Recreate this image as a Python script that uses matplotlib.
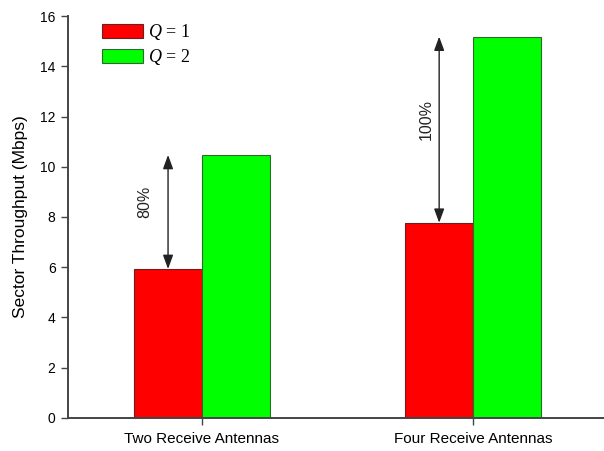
import matplotlib
matplotlib.use("Agg")
import matplotlib.pyplot as plt
import numpy as np

categories = ["Two Receive Antennas", "Four Receive Antennas"]
q1_values = [5.93, 7.77]
q2_values = [10.47, 15.18]
gain_labels = ["80%", "100%"]
series_labels = ["$Q$ = 1", "$Q$ = 2"]

plt.rcParams['font.family'] = ['Liberation Sans', 'DejaVu Sans']
plt.rcParams['mathtext.fontset'] = 'custom'
plt.rcParams['mathtext.it'] = 'Liberation Serif:italic'
plt.rcParams['mathtext.rm'] = 'Liberation Serif'

fig = plt.figure(figsize=(6.04, 4.51), dpi=100)
ax = fig.add_axes([0.1126, 0.0732, 0.8874, 0.8913])

x = np.arange(len(categories))
w = 0.25
spine_col = '#444444'
ax.bar(x - w/2, q1_values, w, color='#ff0000', edgecolor='#6a2020', linewidth=0.8, label=series_labels[0])
ax.bar(x + w/2, q2_values, w, color='#00ff00', edgecolor='#2e6a2e', linewidth=0.8, label=series_labels[1])

text_offsets = [0.085, 0.048]
for i in range(len(categories)):
    ax.annotate('', xy=(x[i] - w/2, q2_values[i]), xytext=(x[i] - w/2, q1_values[i]),
                arrowprops=dict(arrowstyle='<|-|>,head_length=0.6,head_width=0.22', color='#222222', lw=1.0,
                                mutation_scale=14, shrinkA=0, shrinkB=0))
    ax.text(x[i] - w/2 - text_offsets[i], (q1_values[i] + q2_values[i]) / 2 + 0.4, gain_labels[i],
            rotation=90, ha='center', va='center', fontsize=11.5, color='#222222')

ax.set_xlim(-0.494, 1.483)
ax.set_ylim(0, 16)
ax.set_yticks(np.arange(0, 17, 2))
ax.set_xticks(x)
ax.set_xticklabels(categories, fontsize=11)
ax.tick_params(axis='y', labelsize=10, direction='out', length=5, width=1, color=spine_col, pad=4)
ax.tick_params(axis='x', direction='out', length=5, width=1, color=spine_col, pad=5)
ax.set_ylabel("Sector Throughput (Mbps)", fontsize=12.5, labelpad=9)

for s in ['top', 'right']:
    ax.spines[s].set_visible(False)
for s in ['left', 'bottom']:
    ax.spines[s].set_color(spine_col)
    ax.spines[s].set_linewidth(1.4)

ax.legend(loc='upper left', bbox_to_anchor=(0.063, 0.985), frameon=False,
          prop={'family': 'Liberation Serif', 'size': 13},
          handlelength=2.3, handleheight=0.85, labelspacing=0.28,
          handletextpad=0.25, borderpad=0, borderaxespad=0)

fig.savefig("out.png", dpi=100)
